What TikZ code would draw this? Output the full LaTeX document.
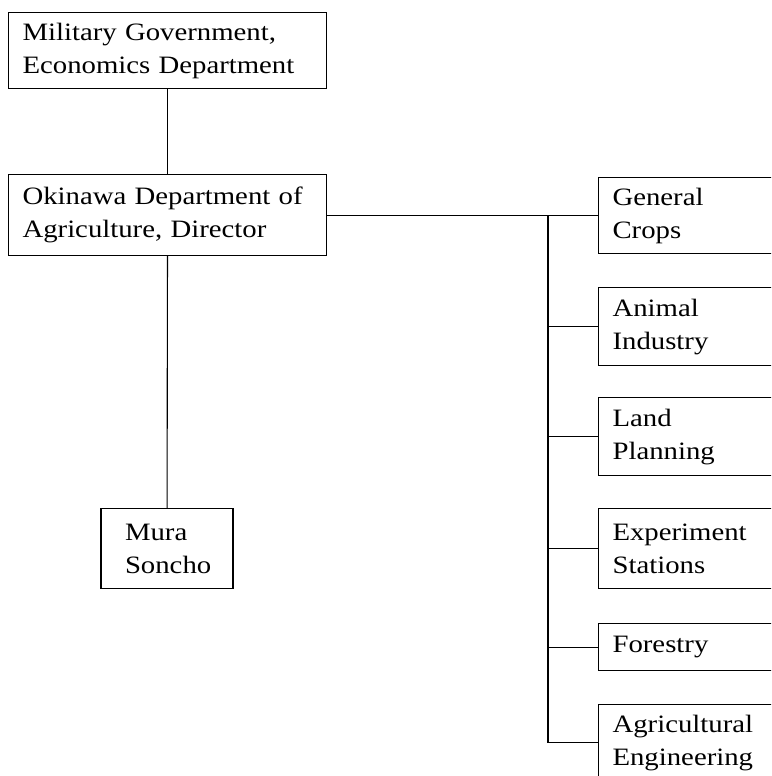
\documentclass[tikz,border=0pt]{standalone}
\usepackage{fontspec}
\setmainfont[FakeStretch=1.15]{Liberation Serif}
\usetikzlibrary{positioning}

\tikzset{
  orgbox/.style={draw, line width=1.1pt, anchor=north west, align=left,
    inner xsep=14pt, inner ysep=0pt, font=\fontsize{25}{33}\selectfont},
  link/.style={line width=1.1pt}
}

\begin{document}
\begin{tikzpicture}
\clip (0pt,0pt) rectangle (771pt,-776pt);

% left column
\node [orgbox, text width=290pt, minimum height=76pt] (mg) at (8pt,-12pt) {Military Government,\\Economics Department};
\node [orgbox, text width=290pt, minimum height=81pt] (oda) at (8pt,-174pt) {Okinawa Department of\\Agriculture, Director};
\node [orgbox, anchor=north, inner xsep=24pt, text width=84pt, minimum height=80pt] (ms) at (167pt,-508pt) {Mura\\Soncho};

% right column (cut off at the page edge)
\node [orgbox, text width=250pt, minimum height=76pt] (gc) at (598pt,-177pt) {General\\Crops};
\node [orgbox, text width=250pt, minimum height=78pt] (ai) at (598pt,-287pt) {Animal\\Industry};
\node [orgbox, text width=250pt, minimum height=78pt] (lp) at (598pt,-397pt) {Land\\Planning};
\node [orgbox, text width=250pt, minimum height=80pt] (es) at (598pt,-508pt) {Experiment\\Stations};
\node [orgbox, text width=250pt, minimum height=47pt] (fo) at (598pt,-623pt) {Forestry};
\node [orgbox, text width=250pt, minimum height=76pt] (ae) at (598pt,-704pt) {Agricultural\\Engineering};

\coordinate (trunk) at (548pt,0pt);

\draw [link] (mg) -- (oda);
\draw [link] (oda) -- (ms);
\draw [link] (oda.east) -- (oda.east -| gc.west);
\draw [link] (trunk |- oda.east) |- (ae.west);
\foreach \b in {ai,lp,es,fo}
  \draw [link] (trunk |- \b.west) -- (\b.west);

\end{tikzpicture}
\end{document}
